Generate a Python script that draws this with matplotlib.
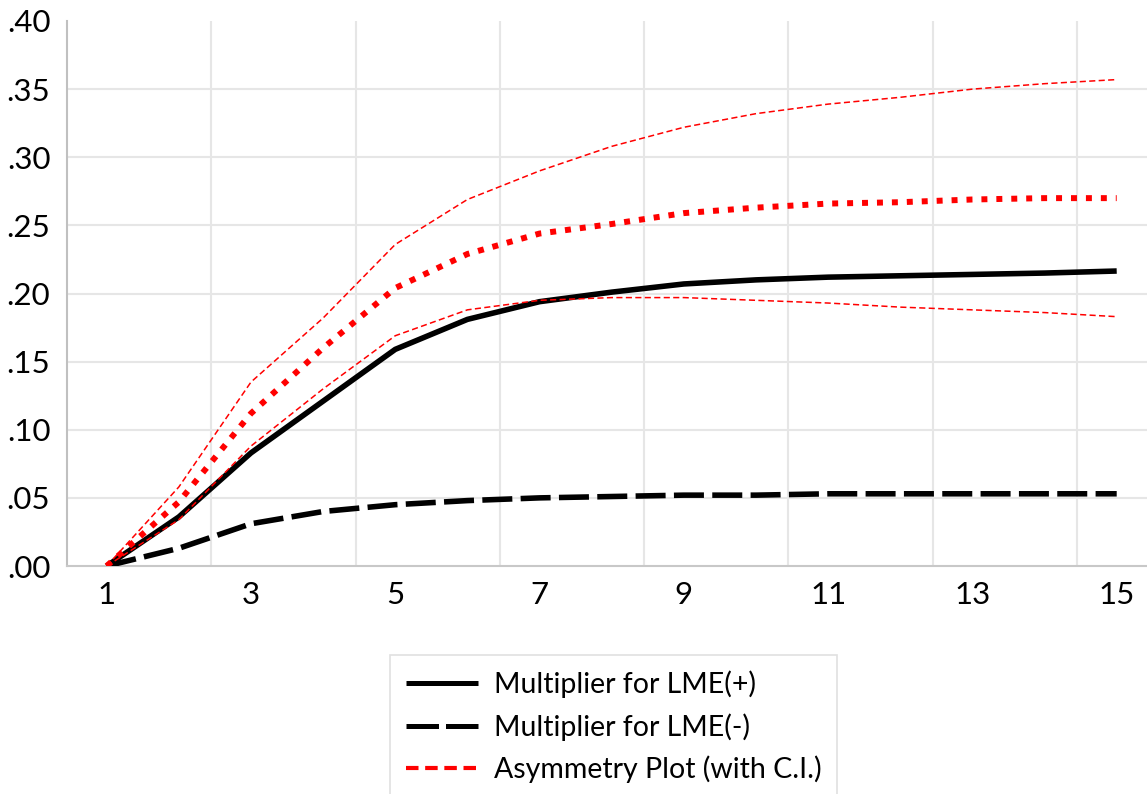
import matplotlib
matplotlib.use("Agg")
import matplotlib.pyplot as plt
from matplotlib.lines import Line2D
from matplotlib.ticker import FuncFormatter

plt.rcParams['font.family'] = ['Lato', 'DejaVu Sans']

periods = list(range(1, 16))
x_tick_labels = ['1', '3', '5', '7', '9', '11', '13', '15']
mult_pos = [0, 0.036, 0.083, 0.121, 0.159, 0.181, 0.194, 0.201, 0.207, 0.210, 0.212, 0.213, 0.214, 0.215, 0.2165]
mult_neg = [0, 0.013, 0.031, 0.040, 0.045, 0.048, 0.050, 0.051, 0.052, 0.052, 0.053, 0.053, 0.053, 0.053, 0.053]
asym = [0, 0.047, 0.112, 0.160, 0.204, 0.229, 0.244, 0.251, 0.259, 0.263, 0.266, 0.267, 0.269, 0.270, 0.270]
ci_upper = [0, 0.058, 0.135, 0.182, 0.236, 0.269, 0.290, 0.308, 0.322, 0.332, 0.339, 0.344, 0.350, 0.354, 0.357]
ci_lower = [0, 0.034, 0.088, 0.130, 0.169, 0.188, 0.195, 0.197, 0.197, 0.195, 0.193, 0.190, 0.188, 0.186, 0.183]
labels = ['Multiplier for LME(+)', 'Multiplier for LME(-)', 'Asymmetry Plot (with C.I.)']

W, H = 1147, 794
fig = plt.figure(figsize=(W / 100, H / 100), dpi=100)
ax = fig.add_axes([67 / W, 1 - 566 / H, 1 - 67 / W, (566 - 21) / H])

x0 = 0.45
ax.set_xlim(x0, 15.42)
ax.set_ylim(0, 0.40)

grid_c = '#e6e6e6'
for gx in [x0 + 2 * k for k in range(1, 8)]:
    ax.axvline(gx, color=grid_c, lw=1.5, zorder=0)
for gy in [0.05, 0.10, 0.15, 0.20, 0.25, 0.30, 0.35]:
    ax.axhline(gy, color=grid_c, lw=1.5, zorder=0)

ax.plot(periods, mult_pos, color='black', lw=4.0, solid_capstyle='butt', zorder=3)
ax.plot(periods, mult_neg, color='black', lw=4.0, dashes=(5.4, 1.5), dash_capstyle='butt', zorder=3)
ax.plot(periods, asym, color='#ff0000', lw=4.3, dashes=(1.0, 1.5), dash_capstyle='butt', zorder=4)
ax.plot(periods, ci_upper, color='#ff0000', lw=1.1, dashes=(4, 2.2), zorder=4)
ax.plot(periods, ci_lower, color='#ff0000', lw=1.1, dashes=(4, 2.2), zorder=4)

for s in ['top', 'right']:
    ax.spines[s].set_visible(False)
ax.spines['left'].set_color('#c0c0c0')
ax.spines['bottom'].set_color('#c8c8c8')
ax.spines['left'].set_linewidth(1.5)
ax.spines['bottom'].set_linewidth(1.5)

ax.set_xticks([int(t) for t in x_tick_labels])
ax.set_xticklabels(x_tick_labels)
ax.set_yticks([0, 0.05, 0.10, 0.15, 0.20, 0.25, 0.30, 0.35, 0.40])
ax.yaxis.set_major_formatter(FuncFormatter(lambda v, p: f"{v:.2f}".lstrip('0')))
ax.tick_params(axis='both', length=0, labelsize=22.5, colors='black')
ax.tick_params(axis='x', pad=11)
ax.tick_params(axis='y', pad=12)

handles = [
    Line2D([], [], color='black', lw=3.6, solid_capstyle='butt'),
    Line2D([], [], color='black', lw=3.6, dashes=(6.5, 1.4), dash_capstyle='butt'),
    Line2D([], [], color='#ff0000', lw=3.0, dashes=(3.0, 1.6), dash_capstyle='butt'),
]
leg = fig.legend(handles, labels, loc='upper left',
                 bbox_to_anchor=(390 / W, 1 - 655 / H), borderaxespad=0,
                 fontsize=20.5, handlelength=2.53, handletextpad=0.56,
                 labelspacing=0.52, borderpad=0.55, frameon=True, fancybox=False)
leg.get_frame().set_edgecolor('#d9d9d9')
leg.get_frame().set_linewidth(1.2)

fig.savefig('out.png', dpi=100)
